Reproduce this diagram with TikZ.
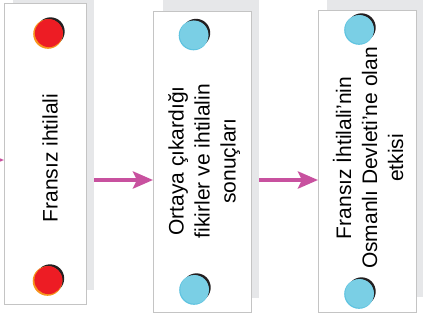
\documentclass[tikz,border=0pt]{standalone}
\usepackage{fontspec}
\setmainfont{Liberation Sans}
\usetikzlibrary{arrows.meta}
\definecolor{pinkarr}{HTML}{C8519F}
\definecolor{shade}{HTML}{E6E7E9}
\definecolor{edgegray}{HTML}{C4C4C4}
\definecolor{reddot}{HTML}{ED1C24}
\definecolor{orangerim}{HTML}{F7941D}
\definecolor{bluedot}{HTML}{7ACFE5}
\definecolor{bluerim}{HTML}{5EC3E0}
\definecolor{darkrim}{HTML}{231F20}
\tikzset{
  shadowbox/.style={fill=shade, draw=none, inner sep=0, outer sep=0, anchor=south west},
  whitebox/.style={fill=white, draw=edgegray, line width=1pt, inner sep=0, outer sep=0, anchor=north west},
  label/.style={rotate=90, align=center, font=\fontsize{21}{26}\selectfont, inner sep=0},
  arr/.style={draw=pinkarr, line width=4pt, -{Stealth[length=20pt, width=17pt, inset=4pt]}},
  redpic/.pic={
    \fill[darkrim] (2.5,-2.5) circle (14.2);
    \fill[orangerim] (0,0) circle (14.8);
    \fill[reddot] (0.9,-0.9) circle (14);
  },
  bluepic/.pic={
    \fill[darkrim] (2.5,-2.5) circle (14.2);
    \fill[bluerim] (0,0) circle (14.8);
    \fill[bluedot] (0.6,-0.6) circle (14.3);
  }
}
\begin{document}
\begin{tikzpicture}[x=1pt,y=-1pt]
\useasboundingbox (0,0) rectangle (423,325);
\clip (0,0) rectangle (423,325);
\fill[white] (0,0) rectangle (423,325);
% shadow panels
\node[shadowbox, minimum width=81pt, minimum height=300pt] (s1) at (13,290) {};
\node[shadowbox, minimum width=96pt, minimum height=310pt] (s2) at (163,298) {};
\node[shadowbox, minimum width=106pt, minimum height=310pt] (s3) at (327,297) {};
% white boxes
\node[whitebox, minimum width=82pt, minimum height=301pt] (b1) at (4,3) {};
\node[whitebox, minimum width=98pt, minimum height=301pt] (b2) at (153,11) {};
\node[whitebox, minimum width=98pt, minimum height=302pt] (b3) at (318,10) {};
% dots
\pic at (48,34) {redpic};
\pic at (47.5,281) {redpic};
\pic at (193.5,35.5) {bluepic};
\pic at (194,290) {bluepic};
\pic at (359,30) {bluepic};
\pic at (359,294) {bluepic};
% texts
\node[label] (t1) at (50,158) {Fransız ihtilali};
\node[label] (t2) at (204,161) {Ortaya çıkardığı\\fikirler ve ihtilalin\\sonuçları};
\node[label] (t3) at (368,158) {Fransız İhtilali’nin\\Osmanlı Devleti’ne olan\\etkisi};
% arrows
\coordinate (ya) at (0,180);
\coordinate (yl) at (-30,160);
\draw[arr] (yl) -- (b1.west |- yl);
\draw[arr] (s1.east |- ya) -- (b2.west |- ya);
\draw[arr] (s2.east |- ya) -- (b3.west |- ya);
\end{tikzpicture}
\end{document}
